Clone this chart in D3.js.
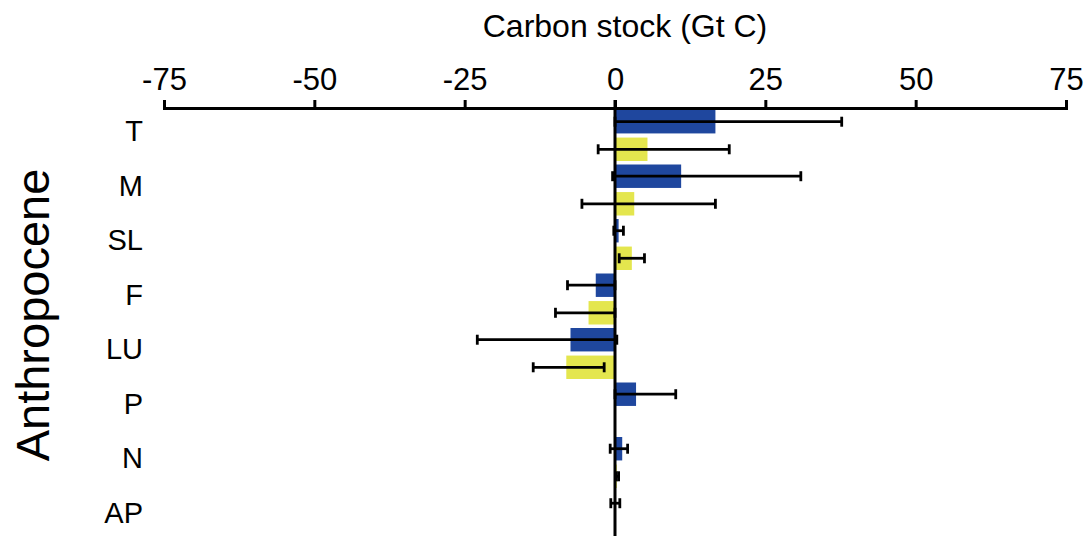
<!DOCTYPE html>
<html>
<head>
<meta charset="utf-8">
<script src="https://cdn.jsdelivr.net/npm/d3@7"></script>
<style>
  body { margin: 0; background: #fff; }
  text { font-family: "Liberation Sans", Arial, sans-serif; fill: #000; }
</style>
</head>
<body>
<div id="chart"></div>
<script>
// categories (top to bottom)
const categories = ["T", "M", "SL", "F", "LU", "P", "N", "AP"];

// blue series: value, lower and upper end of error bar
const blueValues = [16.7, 11.0, 0.6, -3.2, -7.4, 3.5, 1.2, 0.1];
const blueLow    = [0, -0.4, -0.2, -7.9, -22.9, 0, -0.8, -0.7];
const blueHigh   = [37.7, 30.9, 1.4, 0, 0.3, 10.1, 2.1, 0.8];

// yellow series
const yellowValues = [5.4, 3.2, 2.8, -4.4, -8.1, 0, 0.3, 0.1];
const yellowLow    = [-2.8, -5.5, 0.7, -9.9, -13.6, 0, 0.2, 0];
const yellowHigh   = [19.0, 16.7, 4.9, 0, -1.8, 0, 0.6, 0];

const xTicks = [-75, -50, -25, 0, 25, 50, 75];

const svgWidth = 1092, svgHeight = 536;

const svg = d3.select("#chart")
  .append("svg")
  .attr("width", svgWidth)
  .attr("height", svgHeight);

const x = d3.scaleLinear().domain([-75, 75]).range([164, 1066]);

const y = d3.scaleBand().domain(categories).range([108, 544]);
const series = ["blue", "yellow"];
const ySub = d3.scaleBand().domain(series)
  .range([2, y.bandwidth() - 1.5])
  .paddingInner(0.15);

const colors = { blue: "#1f479e", yellow: "#e4e64e" };

// build rows from the arrays
const rows = [];
categories.forEach((c, i) => {
  rows.push({ cat: c, s: "blue", v: blueValues[i], lo: blueLow[i], hi: blueHigh[i] });
  rows.push({ cat: c, s: "yellow", v: yellowValues[i], lo: yellowLow[i], hi: yellowHigh[i] });
});

// bars
svg.append("g")
  .selectAll("rect")
  .data(rows)
  .enter()
  .append("rect")
    .attr("x", d => x(Math.min(0, d.v)))
    .attr("width", d => Math.abs(x(d.v) - x(0)))
    .attr("y", d => y(d.cat) + ySub(d.s))
    .attr("height", ySub.bandwidth())
    .style("fill", d => colors[d.s]);

// error bars
const capH = 10;
const err = svg.append("g")
  .selectAll("g")
  .data(rows.filter(d => d.hi !== d.lo))
  .enter()
  .append("g")
  .attr("transform", d => `translate(0,${y(d.cat) + ySub(d.s) + ySub.bandwidth() / 2})`)
  .style("stroke", "#000")
  .style("stroke-width", 2.8);

err.append("line")
  .attr("x1", d => x(d.lo))
  .attr("x2", d => x(d.hi));
err.append("line")
  .attr("x1", d => x(d.lo)).attr("x2", d => x(d.lo))
  .attr("y1", -capH / 2).attr("y2", capH / 2);
err.append("line")
  .attr("x1", d => x(d.hi)).attr("x2", d => x(d.hi))
  .attr("y1", -capH / 2).attr("y2", capH / 2);

// zero line
svg.append("line")
  .attr("x1", x(0)).attr("x2", x(0))
  .attr("y1", 100).attr("y2", svgHeight)
  .style("stroke", "#000")
  .style("stroke-width", 3);

// top axis
const axis = svg.append("g")
  .attr("transform", "translate(0,108)")
  .call(d3.axisTop(x).tickValues(xTicks).tickSize(8).tickPadding(10).tickFormat(d => String(d)));
axis.selectAll("path, line")
  .style("stroke", "#000")
  .style("stroke-width", 3);
axis.selectAll("text")
  .style("font-size", "31px")
  .style("font-family", "'Liberation Sans', Arial, sans-serif")
  .style("fill", "#000");

// title
svg.append("text")
  .attr("x", 625)
  .attr("y", 37)
  .attr("text-anchor", "middle")
  .style("font-size", "32px")
  .text("Carbon stock (Gt C)");

// category labels
svg.append("g")
  .selectAll("text")
  .data(categories)
  .enter()
  .append("text")
    .attr("x", 143)
    .attr("y", d => y(d) + y.bandwidth() / 2 - 4)
    .attr("dy", "0.35em")
    .attr("text-anchor", "end")
    .style("font-size", "29px")
    .text(d => d);

// group label
svg.append("text")
  .attr("transform", "translate(49,315) rotate(-90)")
  .attr("text-anchor", "middle")
  .style("font-size", "47px")
  .text("Anthropocene");
</script>
</body>
</html>
